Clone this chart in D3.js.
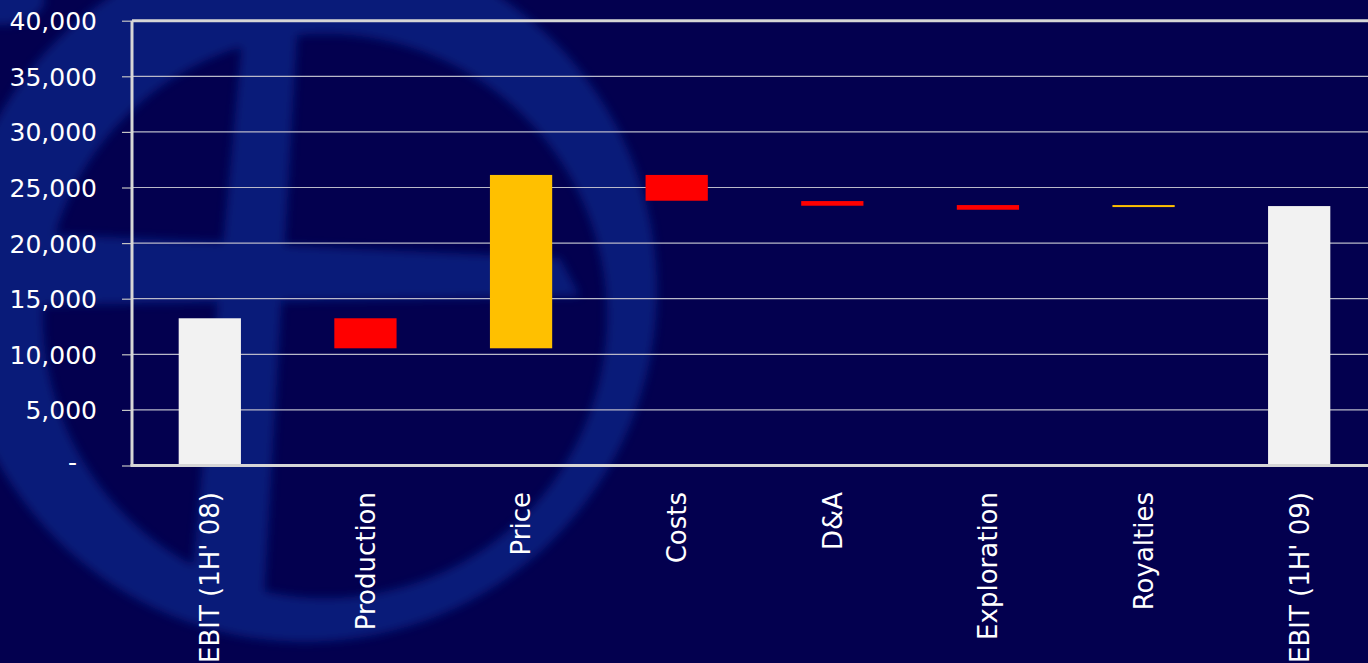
<!DOCTYPE html>
<html>
<head>
<meta charset="utf-8">
<script src="https://cdn.jsdelivr.net/npm/d3@7"></script>
<style>
  body { margin: 0; background: #03004f; overflow: hidden; }
  svg { display: block; }
</style>
</head>
<body>
<div id="chart"></div>
<script>
// waterfall data: invisible base + visible bar, as in the spreadsheet
var categories = ["EBIT (1H' 08)", "Production", "Price", "Costs", "D&A", "Exploration", "Royalties", "EBIT (1H' 09)"];
var baseValues = [0, 10540, 10540, 23810, 23360, 23000, 23240, 0];
var barValues  = [13240, 2700, 15590, 2320, 420, 420, 180, 23330];
var barKind    = ["total", "neg", "pos", "neg", "neg", "neg", "pos", "total"];
var yTicks     = [0, 5000, 10000, 15000, 20000, 25000, 30000, 35000, 40000];

var width = 1368, height = 663;

var kindColor = { total: "#f2f2f2", neg: "#ff0000", pos: "#ffc000" };

var svg = d3.select("#chart")
    .append("svg")
    .attr("width", width)
    .attr("height", height);

svg.append("rect")
    .attr("width", width)
    .attr("height", height)
    .attr("fill", "#03004f");

// faint logo watermark behind the plot
var defs = svg.append("defs");
defs.append("filter")
    .attr("id", "soft")
    .attr("x", "-10%").attr("y", "-10%")
    .attr("width", "120%").attr("height", "120%")
    .append("feGaussianBlur")
    .attr("stdDeviation", 5);

var mark = svg.append("g")
    .attr("fill", "#0b2f95")
    .attr("opacity", 0.6)
    .attr("filter", "url(#soft)");

// ring: outer and inner circles slightly off-centre, filled evenodd
function circlePath(cx, cy, r) {
    var p = d3.path();
    p.moveTo(cx + r, cy);
    p.arc(cx, cy, r, 0, 2 * Math.PI);
    p.closePath();
    return p.toString();
}
mark.append("path")
    .attr("fill-rule", "evenodd")
    .attr("d", circlePath(305, 290, 352) + circlePath(325, 316, 282));

mark.append("path")
    .attr("d", d3.line()([[244, 20], [298, 20], [264, 600], [190, 600]]));

mark.append("path")
    .attr("d", d3.line()([[0, 232], [560, 258], [580, 296], [0, 306]]));

mark.append("ellipse")
    .attr("cx", 0).attr("cy", 0)
    .attr("rx", 45).attr("ry", 25);

var x = d3.scaleBand()
    .domain(categories)
    .range([132, 1377])
    .paddingInner(0.6)
    .paddingOuter(0.3);

var y = d3.scaleLinear()
    .domain([0, 40000])
    .range([465.5, 20.7]);

// horizontal gridlines
svg.append("g")
    .selectAll("line")
    .data(yTicks.filter(function(d) { return d > 0 && d < 40000; }))
    .enter()
    .append("line")
    .attr("x1", 132)
    .attr("x2", width)
    .attr("y1", function(d) { return y(d); })
    .attr("y2", function(d) { return y(d); })
    .style("stroke", "#b9b9c9")
    .style("stroke-width", 1.2);

// y axis with ticks and labels
var fmt = d3.format(",");
var yAxis = svg.append("g")
    .attr("transform", "translate(132,0)")
    .call(d3.axisLeft(y)
        .tickValues(yTicks)
        .tickSize(10)
        .tickPadding(25)
        .tickFormat(function(d) { return d === 0 ? "-" : fmt(d); }));

yAxis.select(".domain").remove();
yAxis.selectAll(".tick line")
    .style("stroke", "#c4c4c4")
    .style("stroke-width", 1.2);
yAxis.selectAll(".tick text")
    .style("fill", "#ffffff")
    .style("font-family", "'DejaVu Sans', sans-serif")
    .style("font-size", "25px")
    .attr("dy", "0.36em");
yAxis.selectAll(".tick text")
    .filter(function(d) { return d === 0; })
    .attr("x", -55)
    .attr("dy", "0.2em");

// bars
svg.append("g")
    .selectAll("rect")
    .data(categories)
    .enter()
    .append("rect")
    .attr("x", function(d) { return x(d); })
    .attr("width", x.bandwidth())
    .attr("y", function(d, i) { return y(baseValues[i] + barValues[i]); })
    .attr("height", function(d, i) { return y(baseValues[i]) - y(baseValues[i] + barValues[i]); })
    .attr("fill", function(d, i) { return kindColor[barKind[i]]; });

// plot frame: left, top and bottom
var frame = [
    [132, y(40000), width, y(40000)],
    [132, y(40000), 132, y(0)],
    [130.5, y(0), width, y(0)]];

svg.append("g")
    .selectAll("line")
    .data(frame)
    .enter()
    .append("line")
    .attr("x1", function(d) { return d[0]; })
    .attr("y1", function(d) { return d[1]; })
    .attr("x2", function(d) { return d[2]; })
    .attr("y2", function(d) { return d[3]; })
    .style("stroke", "#d6d6d6")
    .style("stroke-width", 3);

// category labels, rotated
svg.append("g")
    .selectAll("text")
    .data(categories)
    .enter()
    .append("text")
    .attr("transform", function(d) {
        return "translate(" + (x(d) + x.bandwidth() / 2) + ",492) rotate(-90)";
    })
    .attr("text-anchor", "end")
    .attr("dy", "0.36em")
    .style("fill", "#ffffff")
    .style("font-family", "'DejaVu Sans', sans-serif")
    .style("font-size", "26px")
    .text(function(d) { return d; });
</script>
</body>
</html>
